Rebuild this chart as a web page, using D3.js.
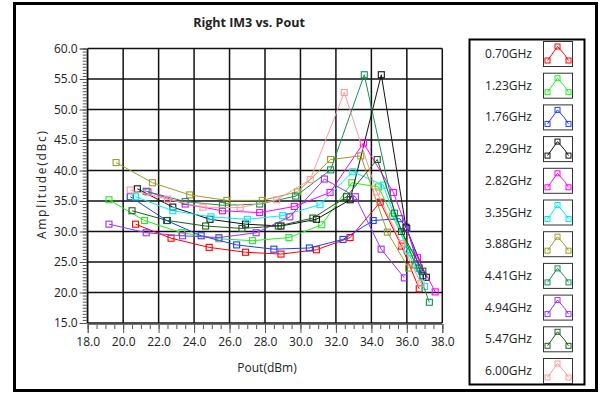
<!DOCTYPE html>
<html>
<head>
<meta charset="utf-8">
<script src="https://cdn.jsdelivr.net/npm/d3@7"></script>
<style>
  body { margin: 0; background: #fff; }
  svg text { font-family: "Open Sans", sans-serif; fill: #222; }
</style>
</head>
<body>
<div id="chart"></div>
<script>
// legend labels + colours
const freqLabels = ['0.70GHz', '1.23GHz', '1.76GHz', '2.29GHz', '2.82GHz', '3.35GHz',
  '3.88GHz', '4.41GHz', '4.94GHz', '5.47GHz', '6.00GHz'];
const seriesColors = ['#ff0000', '#22ee22', '#1f3fff', '#111111', '#ff00ff', '#00eeee',
  '#9c9c2a', '#159055', '#9933ff', '#1e5e1e', '#ff9a9a'];

// [Pout dBm, IM3 dBc]
const s070 = [[20.7,31.2],[22.7,28.9],[24.85,27.4],[26.9,26.6],[28.9,26.3],[30.9,27.0],[32.8,29.0],[34.5,34.8],[35.7,27.6],[36.7,20.6]];
const s123 = [[19.2,35.2],[21.2,31.8],[23.3,29.8],[25.4,28.8],[27.3,28.5],[29.35,29.0],[31.2,31.1],[32.9,38.0],[34.4,37.3],[35.2,32.5],[36.2,26.5],[36.9,22.5]];
const s176 = [[20.4,35.7],[22.45,31.8],[24.4,29.3],[26.4,27.8],[28.5,27.1],[30.5,27.3],[32.4,28.7],[34.1,31.8],[35.6,32.1],[36.0,30.5],[36.7,24.0],[36.9,22.8]];
const s229 = [[20.8,37.0],[22.8,34.0],[24.9,32.0],[26.9,31.2],[28.9,30.9],[30.9,32.0],[32.8,35.2],[34.56,55.7],[35.95,30.7],[37.1,22.5]];
const s282 = [[21.4,36.5],[23.5,34.5],[25.6,33.4],[27.7,33.1],[29.65,34.1],[31.67,36.4],[33.55,44.5],[35.24,36.4],[36.6,25.7],[37.6,20.1]];
const s335 = [[20.7,35.7],[22.8,33.4],[24.95,32.4],[27.0,32.0],[29.0,32.6],[31.1,34.4],[32.95,39.8],[34.67,37.6],[36.0,27.0],[37.0,21.0]];
const s388 = [[19.6,41.3],[21.65,38.0],[23.75,36.0],[25.85,35.1],[27.85,35.1],[29.84,36.5],[31.7,41.8],[33.4,42.4],[34.9,29.9],[36.1,24.0]];
const s441 = [[21.3,36.6],[23.5,34.9],[25.6,34.3],[27.7,34.5],[29.73,35.8],[31.7,40.1],[33.6,55.7],[35.3,33.0],[36.5,24.5],[37.27,18.4]];
const s494 = [[19.2,31.2],[21.3,29.8],[23.35,29.3],[25.4,29.0],[27.5,29.8],[29.4,32.4],[31.35,38.6],[33.1,35.7],[34.55,27.1],[35.86,22.4]];
const s547 = [[20.5,33.4],[22.5,31.8],[24.65,30.9],[26.7,30.5],[28.75,30.9],[30.7,32.2],[32.6,35.7],[34.33,41.8],[35.7,30.0],[36.9,23.5]];
const s600 = [[20.4,36.8],[22.5,35.3],[24.5,34.0],[26.6,33.9],[28.66,35.2],[30.55,38.5],[32.47,52.8],[34.3,36.5],[35.7,28.0],[36.8,21.5]];
const allSeries = [s070, s123, s176, s229, s282, s335, s388, s441, s494, s547, s600];

const xDomain = [18, 38];
const yDomain = [15, 60];

const width = 605;
const height = 394;
const area = { left: 87.7, right: 442.3, top: 48.5, bottom: 323 };

const svg = d3.select('#chart').append('svg')
  .attr('width', width)
  .attr('height', height);

// outer frame
svg.append('rect')
  .attr('x', 14.5).attr('y', 3.5)
  .attr('width', 582).attr('height', 387)
  .attr('fill', 'none').attr('stroke', '#000').attr('stroke-width', 3);

const x = d3.scaleLinear().domain(xDomain).range([area.left, area.right]);
const y = d3.scaleLinear().domain(yDomain).range([area.bottom, area.top]);

// title
svg.append('text')
  .attr('x', 249).attr('y', 27)
  .attr('text-anchor', 'middle')
  .style('font-size', '12.5px').style('font-weight', 'bold')
  .attr('fill', '#111')
  .text('Right IM3 vs. Pout');

// minor + major ticks
const yMinor = svg.append('g').attr('transform', `translate(${area.left - 1},0)`)
  .call(d3.axisLeft(y).tickValues(d3.range(15, 60.01, 0.5)).tickSize(4).tickFormat(''));
const yMajor = svg.append('g').attr('transform', `translate(${area.left - 1},0)`)
  .call(d3.axisLeft(y).tickValues(d3.range(15, 60.01, 5)).tickSize(7).tickPadding(2).tickFormat(d3.format('.1f')));
const xMinor = svg.append('g').attr('transform', `translate(0,${area.bottom + 1})`)
  .call(d3.axisBottom(x).tickValues(d3.range(18, 38.01, 0.5)).tickSize(5).tickFormat(''));
const xMajor = svg.append('g').attr('transform', `translate(0,${area.bottom + 1})`)
  .call(d3.axisBottom(x).tickValues(d3.range(18, 38.01, 2)).tickSize(9).tickPadding(4).tickFormat(d3.format('.1f')));

[yMinor, yMajor, xMinor, xMajor].forEach(g => {
  g.select('.domain').attr('stroke', '#777');
  g.selectAll('.tick line').attr('stroke', '#555');
  g.selectAll('text').style('font-size', '12px').attr('fill', '#222');
});

// grid
const grid = svg.append('g').attr('class', 'grid');
grid.selectAll('line.v').data(d3.range(18, 38.01, 2)).join('line')
  .attr('x1', d => x(d)).attr('x2', d => x(d))
  .attr('y1', area.top).attr('y2', area.bottom)
  .attr('stroke', '#111').attr('stroke-width', 1.5);
grid.selectAll('line.h').data(d3.range(15, 60.01, 5)).join('line')
  .attr('x1', area.left).attr('x2', area.right)
  .attr('y1', d => y(d)).attr('y2', d => y(d))
  .attr('stroke', '#111').attr('stroke-width', 1.5);

// axis titles
svg.append('text')
  .attr('x', 267).attr('y', 372)
  .attr('text-anchor', 'middle')
  .style('font-size', '12px')
  .text('Pout(dBm)');
svg.append('text')
  .attr('transform', 'translate(46,185) rotate(-90)')
  .attr('text-anchor', 'middle')
  .attr('textLength', 108).attr('lengthAdjust', 'spacing')
  .style('font-size', '12px')
  .text('Amplitude(dBc)');

// series
const line = d3.line().x(d => x(d[0])).y(d => y(d[1]));
const plot = svg.append('g');
allSeries.forEach((pts, i) => {
  const g = plot.append('g');
  g.append('path').datum(pts)
    .attr('d', line)
    .attr('fill', 'none')
    .attr('stroke', seriesColors[i])
    .attr('stroke-width', 1);
  g.selectAll('rect').data(pts).join('rect')
    .attr('x', d => x(d[0]) - 3)
    .attr('y', d => y(d[1]) - 3)
    .attr('width', 6).attr('height', 6)
    .attr('fill', 'none')
    .attr('stroke', seriesColors[i])
    .attr('stroke-width', 1.1);
});

// legend
const legend = svg.append('g');
legend.append('rect')
  .attr('x', 469.5).attr('y', 39.5)
  .attr('width', 115).attr('height', 345)
  .attr('fill', '#fff').attr('stroke', '#000').attr('stroke-width', 2);

const iconPts = [[4, 19], [14, 5], [21, 13], [25, 19]];
const iconLine = d3.line();
freqLabels.forEach((label, i) => {
  const cy = 54 + i * 31.7;
  legend.append('text')
    .attr('x', 532).attr('y', cy + 4)
    .attr('text-anchor', 'end')
    .style('font-size', '12px')
    .text(label);
  const sw = legend.append('g').attr('transform', `translate(543.5,${cy - 12.5})`);
  sw.append('rect')
    .attr('width', 29).attr('height', 25)
    .attr('fill', '#fff').attr('stroke', '#333').attr('stroke-width', 1);
  sw.append('path')
    .attr('d', iconLine(iconPts))
    .attr('fill', 'none').attr('stroke', seriesColors[i]);
  sw.selectAll('rect.m').data([iconPts[0], iconPts[1], iconPts[3]]).join('rect')
    .attr('class', 'm')
    .attr('x', d => d[0] - 2.5).attr('y', d => d[1] - 2.5)
    .attr('width', 5).attr('height', 5)
    .attr('fill', 'none').attr('stroke', seriesColors[i]);
});
</script>
</body>
</html>
